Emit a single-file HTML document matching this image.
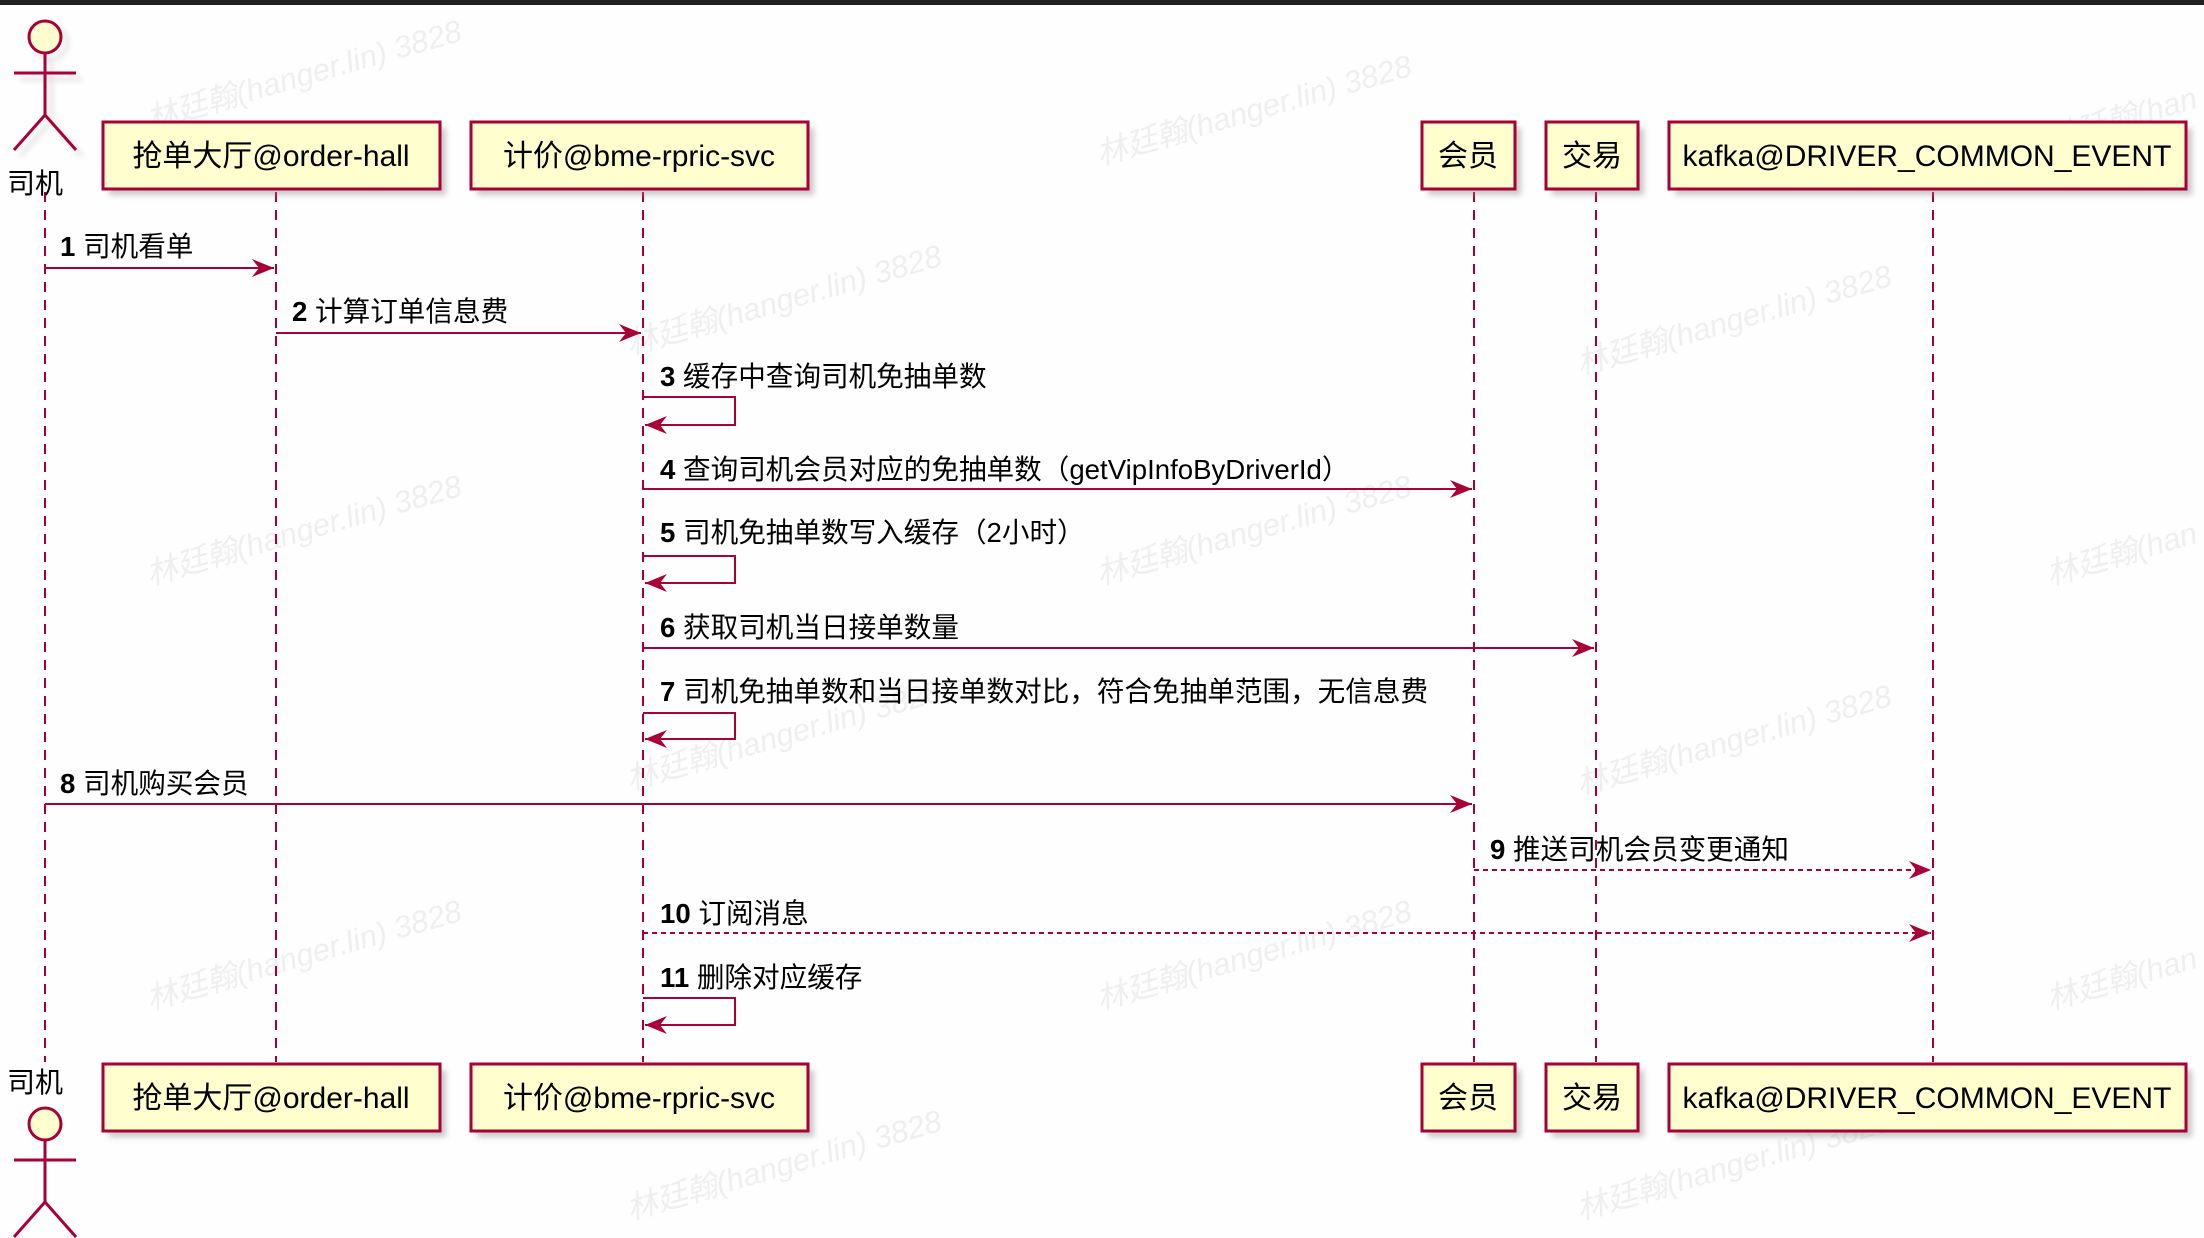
<!DOCTYPE html>
<html><head><meta charset="utf-8"><style>
html,body{margin:0;padding:0;background:#fefefe;}
svg{display:block}
text{font-family:"Liberation Sans","Noto Sans CJK SC",sans-serif;}
.p{font-size:30px;fill:#000;}
.m{font-size:27.6px;fill:#000;}
.w{font-size:31px;fill:#efefef;font-style:italic;}
</style></head><body>
<svg width="2204" height="1238" viewBox="0 0 2204 1238" xmlns="http://www.w3.org/2000/svg">
<defs>
<filter id="sh" x="-10%" y="-10%" width="130%" height="140%"><feGaussianBlur stdDeviation="3"/></filter>
<marker id="ah" markerWidth="24" markerHeight="20" refX="22" refY="10" orient="auto" markerUnits="userSpaceOnUse">
<polygon points="0,1 22,10 0,19 7,10" fill="#A80036"/></marker>
</defs>
<rect x="0" y="0" width="2204" height="5" fill="#222"/>
<g class="w">
<text transform="translate(150,130) rotate(-16)" class="w">林廷翰(hanger.lin) 3828</text>
<text transform="translate(1100,165) rotate(-16)" class="w">林廷翰(hanger.lin) 3828</text>
<text transform="translate(630,355) rotate(-16)" class="w">林廷翰(hanger.lin) 3828</text>
<text transform="translate(1580,375) rotate(-16)" class="w">林廷翰(hanger.lin) 3828</text>
<text transform="translate(150,585) rotate(-16)" class="w">林廷翰(hanger.lin) 3828</text>
<text transform="translate(1100,585) rotate(-16)" class="w">林廷翰(hanger.lin) 3828</text>
<text transform="translate(630,790) rotate(-16)" class="w">林廷翰(hanger.lin) 3828</text>
<text transform="translate(1580,795) rotate(-16)" class="w">林廷翰(hanger.lin) 3828</text>
<text transform="translate(150,1010) rotate(-16)" class="w">林廷翰(hanger.lin) 3828</text>
<text transform="translate(1100,1010) rotate(-16)" class="w">林廷翰(hanger.lin) 3828</text>
<text transform="translate(630,1220) rotate(-16)" class="w">林廷翰(hanger.lin) 3828</text>
<text transform="translate(1580,1220) rotate(-16)" class="w">林廷翰(hanger.lin) 3828</text>
<text transform="translate(2050,585) rotate(-16)" class="w">林廷翰(han</text>
<text transform="translate(2050,1010) rotate(-16)" class="w">林廷翰(han</text>
<text transform="translate(2050,150) rotate(-16)" class="w">林廷翰(han</text>
</g>
<g stroke="#A80036" stroke-width="2" stroke-dasharray="10,8" fill="none">
<line x1="45" y1="192" x2="45" y2="1062"/>
<line x1="276" y1="192" x2="276" y2="1062"/>
<line x1="643" y1="192" x2="643" y2="1062"/>
<line x1="1474" y1="192" x2="1474" y2="1062"/>
<line x1="1596" y1="192" x2="1596" y2="1062"/>
<line x1="1933" y1="192" x2="1933" y2="1062"/>
</g>
<g>
<g transform="translate(6,6)" opacity="0.25" stroke="#777" stroke-width="3" fill="none" filter="url(#sh)">
<circle cx="45" cy="37" r="16"/><line x1="45" y1="53" x2="45" y2="115"/><line x1="14" y1="73" x2="76" y2="73"/><polyline points="14,150 45,115 76,150"/>
</g>
<circle cx="45" cy="37" r="16" fill="#FEFECE" stroke="#A80036" stroke-width="3"/>
<g stroke="#A80036" stroke-width="3" fill="none">
<line x1="45" y1="53" x2="45" y2="115"/><line x1="14" y1="73" x2="76" y2="73"/><polyline points="14,150 45,115 76,150"/>
</g>
</g>
<text x="7" y="193" class="p" style="font-size:28px">司机</text>
<text x="7" y="1092" class="p" style="font-size:28px">司机</text>
<g transform="translate(0,1087)">
<circle cx="45" cy="37" r="16" fill="#FEFECE" stroke="#A80036" stroke-width="3"/>
<g stroke="#A80036" stroke-width="3" fill="none">
<line x1="45" y1="53" x2="45" y2="115"/><line x1="14" y1="73" x2="76" y2="73"/><polyline points="14,150 45,115 76,150"/>
</g>
</g>
<g>
<g fill="#888" opacity="0.45" filter="url(#sh)">
<rect x="109" y="128" width="337" height="67"/><rect x="477" y="128" width="337" height="67"/>
<rect x="1428" y="128" width="93" height="67"/><rect x="1552" y="128" width="92" height="67"/><rect x="1675" y="128" width="517" height="67"/>
<rect x="109" y="1070" width="337" height="67"/><rect x="477" y="1070" width="337" height="67"/>
<rect x="1428" y="1070" width="93" height="67"/><rect x="1552" y="1070" width="92" height="67"/><rect x="1675" y="1070" width="517" height="67"/>
</g>
<g fill="#FEFECE" stroke="#A80036" stroke-width="3">
<rect x="103" y="122" width="337" height="67"/><rect x="471" y="122" width="337" height="67"/>
<rect x="1422" y="122" width="93" height="67"/><rect x="1546" y="122" width="92" height="67"/><rect x="1669" y="122" width="517" height="67"/>
<rect x="103" y="1064" width="337" height="67"/><rect x="471" y="1064" width="337" height="67"/>
<rect x="1422" y="1064" width="93" height="67"/><rect x="1546" y="1064" width="92" height="67"/><rect x="1669" y="1064" width="517" height="67"/>
</g>
<g class="p" text-anchor="middle">
<text x="271" y="166">抢单大厅@order-hall</text><text x="639" y="166">计价@bme-rpric-svc</text>
<text x="1468" y="166">会员</text><text x="1592" y="166">交易</text><text x="1927" y="166">kafka@DRIVER_COMMON_EVENT</text>
<text x="271" y="1108">抢单大厅@order-hall</text><text x="639" y="1108">计价@bme-rpric-svc</text>
<text x="1468" y="1108">会员</text><text x="1592" y="1108">交易</text><text x="1927" y="1108">kafka@DRIVER_COMMON_EVENT</text>
</g>
</g>
<g stroke="#A80036" stroke-width="2" fill="none">
<line x1="45" y1="268" x2="274" y2="268" marker-end="url(#ah)"/>
<line x1="276" y1="333" x2="641" y2="333" marker-end="url(#ah)"/>
<polyline points="643,397 735,397 735,425 645,425" marker-end="url(#ah)"/>
<line x1="643" y1="489" x2="1472" y2="489" marker-end="url(#ah)"/>
<polyline points="643,556 735,556 735,583 645,583" marker-end="url(#ah)"/>
<line x1="643" y1="648" x2="1594" y2="648" marker-end="url(#ah)"/>
<polyline points="643,713 735,713 735,739 645,739" marker-end="url(#ah)"/>
<line x1="45" y1="804" x2="1472" y2="804" marker-end="url(#ah)"/>
<line x1="1474" y1="870" x2="1931" y2="870" stroke-dasharray="5,4" marker-end="url(#ah)"/>
<line x1="643" y1="933" x2="1931" y2="933" stroke-dasharray="5,4" marker-end="url(#ah)"/>
<polyline points="643,998 735,998 735,1025 645,1025" marker-end="url(#ah)"/>
</g>
<g class="m">
<text x="60" y="256"><tspan font-weight="bold">1</tspan> 司机看单</text>
<text x="292" y="321"><tspan font-weight="bold">2</tspan> 计算订单信息费</text>
<text x="660" y="386"><tspan font-weight="bold">3</tspan> 缓存中查询司机免抽单数</text>
<text x="660" y="479"><tspan font-weight="bold">4</tspan> 查询司机会员对应的免抽单数（getVipInfoByDriverId）</text>
<text x="660" y="542"><tspan font-weight="bold">5</tspan> 司机免抽单数写入缓存（2小时）</text>
<text x="660" y="637"><tspan font-weight="bold">6</tspan> 获取司机当日接单数量</text>
<text x="660" y="701"><tspan font-weight="bold">7</tspan> 司机免抽单数和当日接单数对比，符合免抽单范围，无信息费</text>
<text x="60" y="793"><tspan font-weight="bold">8</tspan> 司机购买会员</text>
<text x="1490" y="859"><tspan font-weight="bold">9</tspan> 推送司机会员变更通知</text>
<text x="660" y="923"><tspan font-weight="bold">10</tspan> 订阅消息</text>
<text x="660" y="987"><tspan font-weight="bold">11</tspan> 删除对应缓存</text>
</g>
</svg>
</body></html>
